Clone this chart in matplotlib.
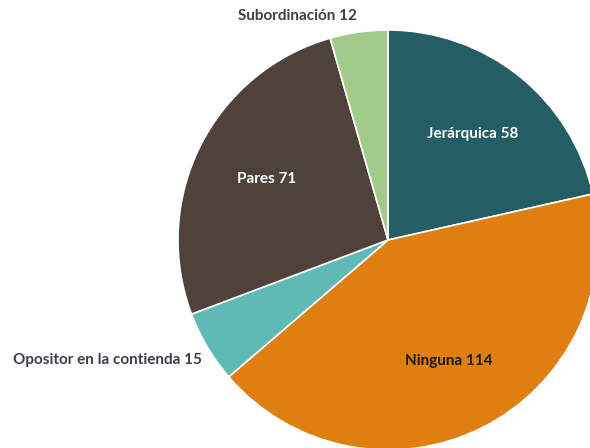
import matplotlib
matplotlib.use("Agg")
import matplotlib.pyplot as plt
import numpy as np

categorias = ["Jerárquica", "Ninguna", "Opositor en la contienda", "Pares", "Subordinación"]
valores = [58, 114, 15, 71, 12]
colores = ["#245d63", "#df7f12", "#5fbab6", "#4f423a", "#a2ca8b"]
color_texto = ["white", "#1a1a1a", None, "white", None]

plt.rcParams['font.family'] = ['Lato', 'DejaVu Sans']

fig = plt.figure(figsize=(5.9, 4.48), dpi=100)
ax = fig.add_axes([0, 0, 1, 1])

cx, cy, R = 388, 208, 210
wedges, _ = ax.pie(valores, colors=colores, startangle=90, counterclock=False,
                   center=(cx, cy), radius=R, frame=True,
                   wedgeprops=dict(edgecolor='white', linewidth=1.2))
ax.set_xlim(0, 590)
ax.set_ylim(0, 448)
ax.set_aspect('equal')
ax.axis('off')

for w, cat, val, tc in zip(wedges, categorias, valores, color_texto):
    if tc is None:
        continue
    ang = np.deg2rad((w.theta1 + w.theta2) / 2)
    ax.text(cx + 0.645 * R * np.cos(ang), cy + 0.645 * R * np.sin(ang),
            f"{cat} {val}", color=tc, fontsize=11, fontweight='bold',
            ha='center', va='center')

# etiquetas exteriores
ax.text(298, 432, f"{categorias[4]} {valores[4]}", color="#3b3f4c", fontsize=11,
        fontweight='bold', ha='center', va='center')
ax.text(202, 88, f"{categorias[2]} {valores[2]}", color="#3b3f4c", fontsize=11,
        fontweight='bold', ha='right', va='center')

fig.savefig("out.png", dpi=100)
